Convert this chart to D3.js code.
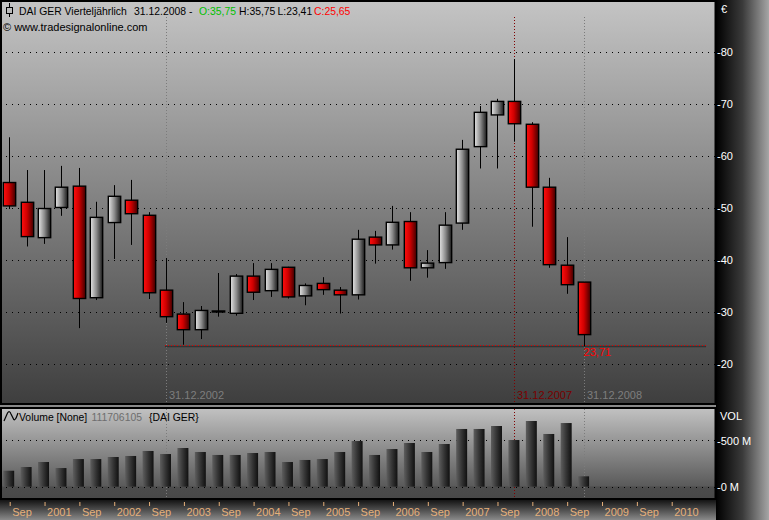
<!DOCTYPE html>
<html><head><meta charset="utf-8">
<script src="https://cdn.jsdelivr.net/npm/d3@7/dist/d3.min.js"></script>
<style>
body{margin:0;background:#000;}
svg{display:block;}
text{font-family:"Liberation Sans",Arial,sans-serif;}
</style>
</head><body>
<svg id="chart" width="769" height="520"></svg>
<script>
// ---------- DATA ----------
const quarters = ["30.09.2000","31.12.2000","31.03.2001","30.06.2001","30.09.2001","31.12.2001",
  "31.03.2002","30.06.2002","30.09.2002","31.12.2002","31.03.2003","30.06.2003","30.09.2003","31.12.2003",
  "31.03.2004","30.06.2004","30.09.2004","31.12.2004","31.03.2005","30.06.2005","30.09.2005","31.12.2005",
  "31.03.2006","30.06.2006","30.09.2006","31.12.2006","31.03.2007","30.06.2007","30.09.2007","31.12.2007",
  "31.03.2008","30.06.2008","30.09.2008","31.12.2008"];
const openVals  = [54.9,51.1,44.3,50.1,54.2,32.75,47.2,51.5,48.6,34.2,29.6,26.6,30.0,29.75,36.9,34.1,38.6,33.1,35.5,34.2,33.3,44.4,42.9,47.4,38.5,39.5,47.1,61.8,67.9,70.5,66.1,54.0,39.0,35.75];
const highVals  = [63.6,57.3,57.3,58.1,57.7,51.2,54.4,55.4,49.2,40.4,31.9,31.15,37.5,37.3,39.4,39.4,38.7,35.5,36.7,34.8,45.8,45.6,50.4,49.2,41.9,49.2,63.1,69.6,71.0,78.65,66.5,55.8,44.4,35.75];
const lowVals   = [49.8,42.6,43.1,48.5,26.9,32.3,40.2,42.9,32.5,27.9,23.71,24.8,29.1,29.3,32.3,32.9,32.6,31.3,33.3,29.7,32.4,39.3,42.0,36.0,36.6,38.3,45.8,57.6,57.6,62.75,46.4,38.5,33.5,23.41];
const closeVals = [50.4,44.5,49.9,54.0,32.6,48.2,52.25,48.9,33.7,29.1,26.6,30.3,30.2,36.9,33.8,38.2,32.9,35.1,34.3,33.3,44.0,42.9,47.25,38.5,39.4,46.7,61.3,68.4,70.5,66.2,54.0,39.1,35.25,25.65];
const volumeM   = [172,212,266,201,298,298,320,331,385,352,417,374,342,342,363,374,266,288,298,374,492,342,406,471,374,460,622,622,654,503,708,568,686,111.7];
const priceTicks = [20,30,40,50,60,70,80];
const volumeTicks = [0,500];
const timeTickLabels = ["Sep","2001","Sep","2002","Sep","2003","Sep","2004","Sep","2005","Sep","2006","Sep","2007","Sep","2008","Sep","2009","Sep","2010"];
const markerDates = ["31.12.2002","31.12.2007","31.12.2008"];
const markerColors = ["#7c7c7c","#800000","#7c7c7c"];
const supportLevel = 23.71;
const supportLabel = "23,71";

// ---------- SETUP ----------
const svg = d3.select("#chart");
const defs = svg.append("defs");
function grad(id, stops, vertical){
  const g = defs.append("linearGradient").attr("id", id)
    .attr("x1",0).attr("y1",0).attr("x2", vertical?0:1).attr("y2", vertical?1:0);
  stops.forEach(s => g.append("stop").attr("offset", s[0]).attr("stop-color", s[1]));
}
grad("mainBg", [[0,"#c4c4c4"],[1,"#3e3e3e"]], true);
grad("volBg", [[0,"#c2c2c2"],[0.86,"#5a5a5a"],[0.865,"#4c4c4c"],[1,"#484848"]], true);
grad("rightBg", [[0,"#000"],[0.5,"#3a3a3a"],[1,"#a6a6a6"]], false);
grad("botBg", [[0,"#141414"],[1,"#8a8a8a"]], true);
grad("redBody", [[0,"#ff1010"],[0.45,"#d00000"],[1,"#400000"]], false);
grad("greyBody", [[0,"#e6e6e6"],[0.5,"#8a8a8a"],[1,"#1a1a1a"]], false);
grad("volBar", [[0,"#5e5e5e"],[0.5,"#353535"],[1,"#101010"]], false);

const x = d3.scaleLinear().domain([0, quarters.length-1]).range([9.2, 584.1]);
const y = d3.scaleLinear().domain([20, 80]).range([364, 52]);
const yv = d3.scaleLinear().domain([0, 500]).range([486.7, 440.3]);

// backgrounds
svg.append("rect").attr("x",0).attr("y",0).attr("width",769).attr("height",520).attr("fill","#8a8a8a");
svg.append("rect").attr("x",0).attr("y",500).attr("width",716).attr("height",20).attr("fill","url(#botBg)");
svg.append("rect").attr("x",716).attr("y",0).attr("width",53).attr("height",520).attr("fill","url(#rightBg)");
svg.append("rect").attr("x",1).attr("y",1).attr("width",714.5).attr("height",403)
  .attr("fill","url(#mainBg)").attr("stroke","#000").attr("stroke-width",2);
svg.append("rect").attr("x",1).attr("y",408).attr("width",714.5).attr("height",91)
  .attr("fill","url(#volBg)").attr("stroke","#000").attr("stroke-width",2);

// gridlines
svg.append("g").selectAll("line").data(priceTicks).join("line")
  .attr("x1",6).attr("x2",715).attr("y1",d=>Math.round(y(d))+0.5).attr("y2",d=>Math.round(y(d))+0.5)
  .attr("stroke","#000").attr("stroke-dasharray","1,5");
svg.append("g").selectAll("line").data(volumeTicks).join("line")
  .attr("x1",6).attr("x2",715).attr("y1",d=>Math.round(yv(d))+0.5).attr("y2",d=>Math.round(yv(d))+0.5)
  .attr("stroke","#000").attr("stroke-dasharray","1,5");

// marker vertical lines
markerDates.forEach((d,k)=>{
  const xi = Math.round(x(quarters.indexOf(d)))+0.5;
  svg.append("line").attr("x1",xi).attr("x2",xi).attr("y1",17).attr("y2",403)
    .attr("stroke",markerColors[k]).attr("stroke-dasharray","1,2");
  svg.append("line").attr("x1",xi).attr("x2",xi).attr("y1",409).attr("y2",498)
    .attr("stroke",markerColors[k]).attr("stroke-dasharray","1,2");
  svg.append("text").attr("x",xi+2.5).attr("y",398.5).attr("font-size","11px")
    .attr("fill", k===1 ? "#7a0000" : "#7e7e7e").text(d);
});

// support line
const supY = Math.round(y(supportLevel))+0.5;
svg.append("line").attr("x1",x(9)-1).attr("x2",x(40)).attr("y1",supY+1).attr("y2",supY+1)
  .attr("stroke","#333").attr("stroke-width",1.5);
svg.append("line").attr("x1",x(9)-1).attr("x2",x(40)).attr("y1",supY).attr("y2",supY)
  .attr("stroke","#e00000").attr("stroke-dasharray","1,2");
svg.append("text").attr("x",x(33)-0.5).attr("y",356).attr("font-size","11px").attr("fill","#ff0000").text(supportLabel);

// candles
const candles = quarters.map((q,i)=>({i, o:openVals[i], h:highVals[i], l:lowVals[i], c:closeVals[i]}));
const cg = svg.append("g");
cg.selectAll("line").data(candles).join("line")
  .attr("x1",d=>Math.round(x(d.i))+0.5).attr("x2",d=>Math.round(x(d.i))+0.5)
  .attr("y1",d=>y(d.h)).attr("y2",d=>y(d.l)).attr("stroke","#000").attr("stroke-width",1);
const bw = (x(1)-x(0))*0.71;
cg.selectAll("rect").data(candles).join("rect")
  .attr("x",d=>Math.round(x(d.i))+0.5-bw/2).attr("width",bw)
  .attr("y",d=>y(Math.max(d.o,d.c))).attr("height",d=>Math.max(1,Math.abs(y(d.o)-y(d.c))))
  .attr("fill",d=>d.c<d.o?"url(#redBody)":"url(#greyBody)")
  .attr("stroke","#000").attr("stroke-width",1.4);

// volume bars
const vbw = (x(1)-x(0))*0.63;
svg.append("g").selectAll("rect").data(volumeM).join("rect")
  .attr("x",(d,i)=>x(i)-0.5-vbw/2).attr("width",vbw)
  .attr("y",d=>yv(d)).attr("height",d=>yv(0)-yv(d))
  .attr("fill","url(#volBar)");

// right price axis
const pa = svg.append("g").attr("transform","translate(717,0)")
  .call(d3.axisRight(y).tickValues(priceTicks).tickSize(0).tickPadding(0).tickFormat(d=>"-"+d));
pa.select(".domain").remove();
pa.selectAll("text").attr("fill","#fff").attr("font-size","11px").attr("font-family","Liberation Sans, Arial, sans-serif").attr("dy","0.35em");
svg.append("text").attr("x",721).attr("y",13).attr("fill","#fff").attr("font-size","11px").text("€");

// right volume axis
const va = svg.append("g").attr("transform","translate(717,0)")
  .call(d3.axisRight(yv).tickValues(volumeTicks).tickSize(0).tickPadding(0).tickFormat(d=>"-"+d+" M"));
va.select(".domain").remove();
va.selectAll("text").attr("fill","#fff").attr("font-size","11px").attr("font-family","Liberation Sans, Arial, sans-serif").attr("dy","0.35em");
svg.append("text").attr("x",720).attr("y",419.5).attr("fill","#fff").attr("font-size","11px").text("VOL");

// bottom time axis
const ta = svg.append("g").attr("transform","translate(0,502)")
  .call(d3.axisBottom(x).tickValues(timeTickLabels.map((_,k)=>k*2)).tickSize(4).tickFormat((d,k)=>timeTickLabels[k]));
ta.select(".domain").remove();
ta.selectAll(".tick line").attr("stroke","#e6b07a").attr("transform","translate(0.5,0)");
ta.selectAll("text").attr("fill","#e6b07a").attr("font-size","11px").attr("font-family","Liberation Sans, Arial, sans-serif")
  .attr("text-anchor","start").attr("x",2.5).attr("y",6).attr("dy","0.71em");

// header
svg.append("line").attr("x1",9.5).attr("x2",9.5).attr("y1",3).attr("y2",17).attr("stroke","#000");
svg.append("rect").attr("x",6.5).attr("y",7.5).attr("width",6).attr("height",6).attr("fill","#bcbcbc").attr("stroke","#000");
const hdr = [
  {x:19, t:"DAI GER Vierteljährlich", c:"#000"},
  {x:134, t:"31.12.2008 -", c:"#000"},
  {x:199, t:"O:35,75", c:"#00c000"},
  {x:239, t:"H:35,75", c:"#000"},
  {x:277.5, t:"L:23,41", c:"#000"},
  {x:314, t:"C:25,65", c:"#ff0000"}
];
svg.append("g").selectAll("text").data(hdr).join("text")
  .attr("x",d=>d.x).attr("y",14.5).attr("font-size","10.4px").attr("fill",d=>d.c).text(d=>d.t);
svg.append("text").attr("x",3).attr("y",31).attr("font-size","11px").attr("fill","#000").text("© www.tradesignalonline.com");

// volume panel header
svg.append("path").attr("d","M4,421 L7.5,413 Q9.5,410 11,414 L13,418 Q14.5,422 16.5,417 L18,413")
  .attr("fill","none").attr("stroke","#000").attr("stroke-width",1.2);
const vh = [
  {x:19, t:"Volume [None]", c:"#000"},
  {x:91.5, t:"111706105", c:"#6e6e6e"},
  {x:149, t:"{DAI GER}", c:"#000"}
];
svg.append("g").selectAll("text").data(vh).join("text")
  .attr("x",d=>d.x).attr("y",420.5).attr("font-size","10.4px").attr("fill",d=>d.c).text(d=>d.t);
</script>
</body></html>
